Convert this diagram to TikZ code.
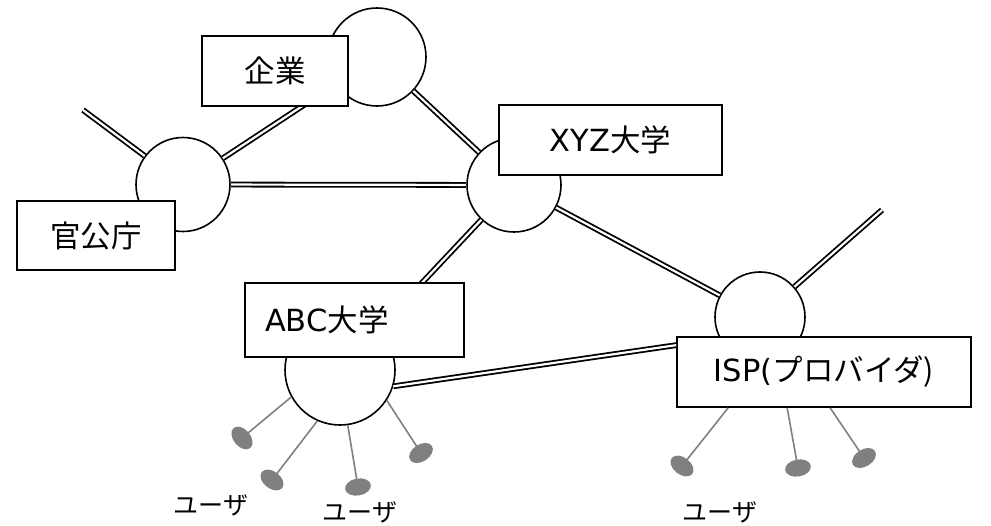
\documentclass[tikz,border=0pt]{standalone}
\usepackage{fontspec}
\setmainfont{Noto Sans CJK JP}
\newfontfamily\lat{DejaVu Sans}
\usetikzlibrary{shapes.geometric,calc}
\definecolor{ugray}{RGB}{128,128,128}
\begin{document}
\begin{tikzpicture}[x=1pt,y=-1pt,
  router/.style={circle,draw=black,line width=1.6pt,fill=white,inner sep=0pt},
  orgbox/.style={rectangle,draw=black,line width=1.7pt,fill=white,inner sep=0pt,font=\fontsize{30.5pt}{35pt}\selectfont},
  link/.style={draw=black,line width=1.8pt,double=white,double distance=2.2pt},
  user/.style={ellipse,fill=ugray,minimum width=26pt,minimum height=17pt,inner sep=0pt},
  uline/.style={draw=ugray,line width=1.6pt},
  ulabel/.style={font=\fontsize{25pt}{30pt}\selectfont,inner sep=0pt}]
\useasboundingbox[fill=white] (0,0) rectangle (991,526);
% routers
\node[router,minimum size=98pt] (rt) at (377,57) {};
\node[router,minimum size=94pt] (rg) at (183,184.5) {};
\node[router,minimum size=94pt] (rx) at (514,185) {};
\node[router,minimum size=90pt] (ri) at (760,317) {};
\node[router,minimum size=110pt] (ra) at (340,370) {};
\coordinate (d1) at (83,110);
\coordinate (d2) at (882,210);
% links
\draw[link] (d1) -- (rg);
\draw[link] (rg) -- (rt);
\draw[link] (rg) -- (rx);
\draw[link] (rt) -- (rx);
\draw[link] (rx) -- (ra);
\draw[link] (rx) -- (ri);
\draw[link] (ri) -- (d2);
% boxes
\node[orgbox,minimum width=146pt,minimum height=70pt] (bk) at (275,71) {企業};
\node[orgbox,minimum width=158pt,minimum height=69pt] (bg) at (96,235.5) {官公庁};
\node[orgbox,minimum width=223pt,minimum height=70pt] (bx) at (610.5,140) {{\lat XYZ}大学};
\node[orgbox,minimum width=219pt,minimum height=74pt,inner xsep=20pt,text width=179pt,align=left] (ba) at (354.5,320) {{\lat ABC}大学};
\node[orgbox,minimum width=294pt,minimum height=70pt] (bi) at (824,372) {{\lat ISP(}プロバイダ)};
\draw[link] (ra.-17) -- ($(bi.north west)+(0,9)$);
% user lines
\coordinate (c1) at (242,438);
\coordinate (c2) at (272,480);
\coordinate (c3) at (358,487);
\coordinate (c4) at (421,453);
\coordinate (c5) at (682,466);
\coordinate (c6) at (798,468);
\coordinate (c7) at (864,458);
\draw[uline] (ra.209) -- (c1);
\draw[uline] (ra.246) -- (c2);
\draw[uline] (ra.278) -- (c3);
\draw[uline] (ra.327) -- (c4);
\draw[uline] ($(bi.south west)+(52,0)$) -- (c5);
\draw[uline] ($(bi.south west)+(111,0)$) -- (c6);
\draw[uline] ($(bi.south west)+(154,0)$) -- (c7);
% user heads
\node[user,rotate=-50] (u1) at (c1) {};
\node[user,rotate=-38] (u2) at (c2) {};
\node[user,rotate=10] (u3) at (c3) {};
\node[user,rotate=33] (u4) at (c4) {};
\node[user,rotate=-38] (u5) at (c5) {};
\node[user,rotate=10] (u6) at (c6) {};
\node[user,rotate=32] (u7) at (c7) {};
% labels
\node[ulabel] (l1) at (211,505) {ユーザ};
\node[ulabel] (l2) at (360,512) {ユーザ};
\node[ulabel] (l3) at (720,512) {ユーザ};
\end{tikzpicture}
\end{document}
